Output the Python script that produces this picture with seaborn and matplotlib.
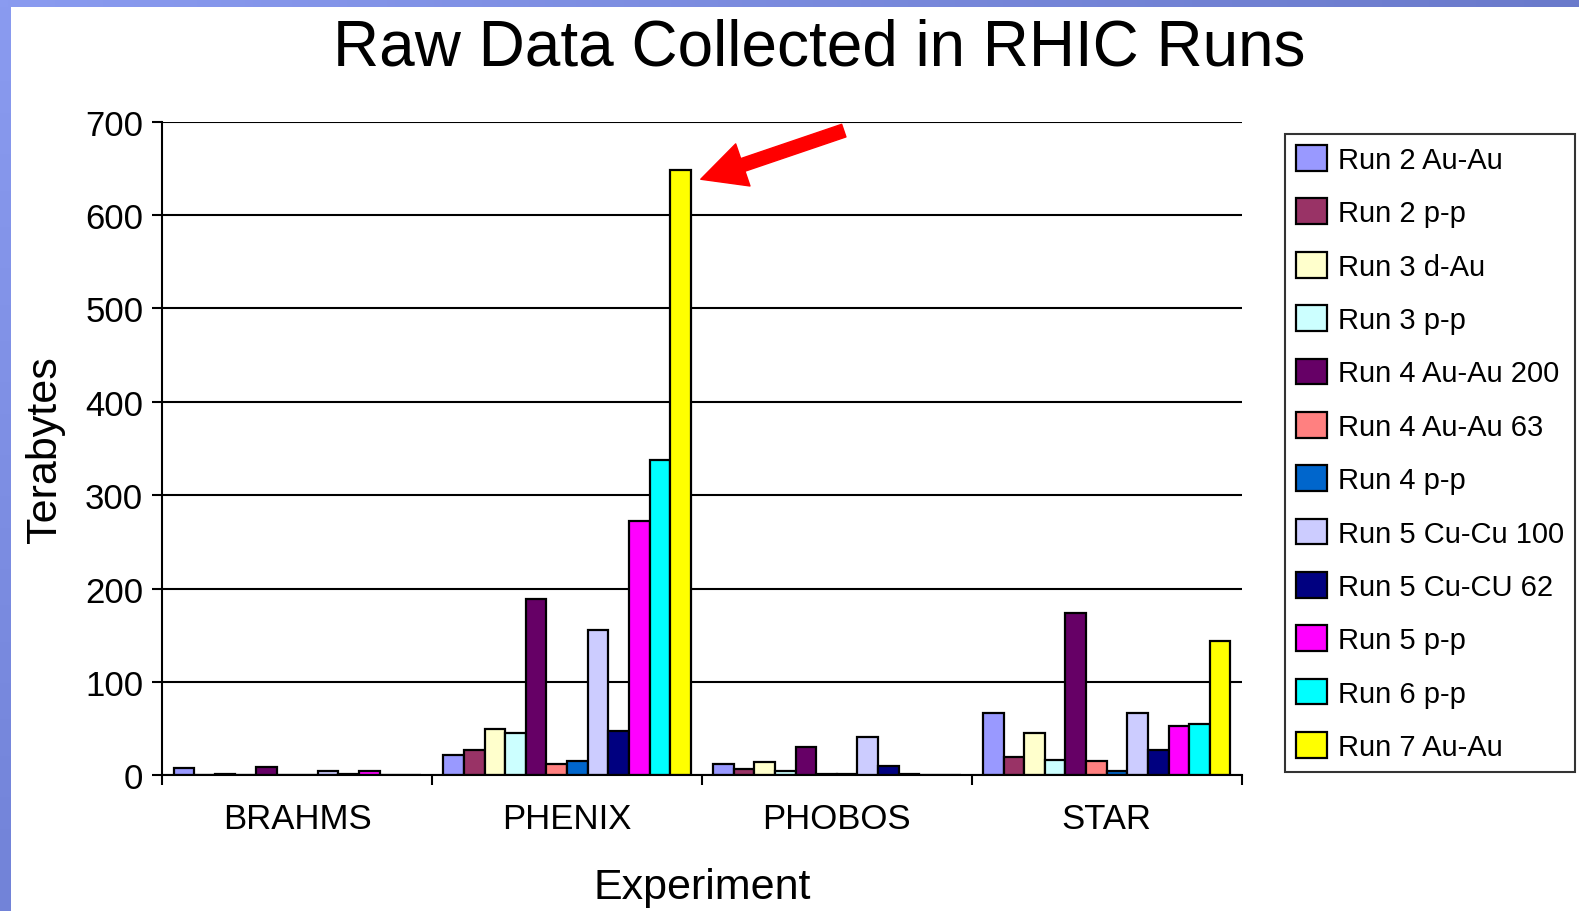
import numpy as np
import pandas as pd
import matplotlib
matplotlib.use("Agg")
import matplotlib.pyplot as plt
import matplotlib.transforms as mtransforms
import seaborn as sns

# ===============================
# Data
# ===============================
experiments = ["BRAHMS", "PHENIX", "PHOBOS", "STAR"]
runs = ["Run 2 Au-Au", "Run 2 p-p", "Run 3 d-Au", "Run 3 p-p",
        "Run 4 Au-Au 200", "Run 4 Au-Au 63", "Run 4 p-p", "Run 5 Cu-Cu 100",
        "Run 5 Cu-CU 62", "Run 5 p-p", "Run 6 p-p", "Run 7 Au-Au"]

brahms = [8, 0, 2, 0, 9, 0, 0, 5, 2, 5, 0, 0]
phenix = [22, 27, 50, 45, 189, 12, 15, 156, 48, 272, 338, 648]
phobos = [12, 7, 14, 5, 31, 2, 2, 41, 10, 2, 0, 0]
star = [67, 20, 45, 17, 174, 15, 5, 67, 27, 53, 55, 144]

run_colors = ["#9999FF", "#993366", "#FFFFCC", "#CCFFFF", "#660066", "#FF8080",
              "#0066CC", "#CCCCFF", "#000080", "#FF00FF", "#00FFFF", "#FFFF00"]

yticks = [0, 100, 200, 300, 400, 500, 600, 700]

rows = []
for exp, vals in zip(experiments, [brahms, phenix, phobos, star]):
    for run, v in zip(runs, vals):
        rows.append({"Experiment": exp, "Run": run, "Terabytes": v})
df = pd.DataFrame(rows)

# ===============================
# Plot
# ===============================
sns.set_style("white")
plt.rcParams["font.family"] = ["Liberation Sans", "DejaVu Sans"]
plt.rcParams["text.color"] = "black"
plt.rcParams["axes.labelcolor"] = "black"
plt.rcParams["xtick.color"] = "black"
plt.rcParams["ytick.color"] = "black"

fig = plt.figure(figsize=(15.79, 9.12), dpi=100)
fig.patch.set_facecolor("white")

# blue slide border (gradient strips)
left_ax = fig.add_axes([0, 0, 11 / 1579, 1])
left_ax.imshow(np.linspace(0, 1, 200).reshape(-1, 1), aspect="auto",
               cmap=matplotlib.colors.LinearSegmentedColormap.from_list(
                   "l", ["#8A9BF0", "#7283D8"]))
left_ax.axis("off")
top_ax = fig.add_axes([0, 1 - 7.5 / 912, 1, 7.5 / 912])
top_ax.imshow(np.linspace(0, 1, 200).reshape(1, -1), aspect="auto",
              cmap=matplotlib.colors.LinearSegmentedColormap.from_list(
                  "t", ["#8A9BF0", "#6A7ACB"]))
top_ax.axis("off")

ax = fig.add_axes([0.1028, 0.1486, 0.7863 - 0.1028, 0.8655 - 0.1486])
sns.barplot(data=df, x="Experiment", y="Terabytes", hue="Run",
            order=experiments, hue_order=runs, palette=run_colors,
            width=0.917, saturation=1, edgecolor="black", linewidth=1.6,
            errorbar=None, ax=ax, zorder=3)

ax.set_ylim(0, 700)
ax.set_xlim(-0.5, 3.5)
ax.set_yticks(yticks)
ax.set_yticklabels([str(t) for t in yticks], fontsize=25)
ax.yaxis.grid(True, color="black", linewidth=1.5)
ax.set_axisbelow(True)
for s in ["top", "right"]:
    ax.spines[s].set_visible(False)
for s in ["left", "bottom"]:
    ax.spines[s].set_color("black")
    ax.spines[s].set_linewidth(1.5)
    ax.spines[s].set_zorder(4)
ax.tick_params(axis="y", direction="out", length=7.2, width=1.5, pad=6.5,
               left=True, color="black")
ax.tick_params(axis="x", which="major", length=0, pad=19, labelsize=25)
ax.set_xticks([-0.5, 0.5, 1.5, 2.5, 3.5], minor=True)
ax.tick_params(axis="x", which="minor", direction="out", length=7.5, width=1.5,
               bottom=True, color="black")

ax.set_xlabel("Experiment", fontsize=31)
ax.xaxis.set_label_coords(0.5, -0.171)
ax.xaxis.label.set_va("center")
ax.set_ylabel("Terabytes", fontsize=31)
ax.yaxis.set_label_coords(-0.109, 0.5)
ax.yaxis.label.set_va("center")

fig.text(0.519, 1 - 49 / 912, "Raw Data Collected in RHIC Runs",
         ha="center", va="center", fontsize=46)

# legend
handles, labels = ax.get_legend_handles_labels()
ax.legend_.remove()
leg = fig.legend(handles, labels, loc="upper left",
                 bbox_to_anchor=(1285 / 1579, 1 - 135 / 912),
                 fontsize=21, frameon=True, fancybox=False,
                 edgecolor="black", borderaxespad=0, borderpad=0.38,
                 handlelength=1.06, handleheight=0.98, handletextpad=0.38,
                 labelspacing=0.84)
leg.get_frame().set_linewidth(1.5)

# red arrow pointing at the tallest bar
bar = ax.containers[-1].patches[1]
tip = mtransforms.offset_copy(ax.transData, fig=fig, x=10, y=-9, units="dots")
ax.annotate("", xy=(bar.get_x() + bar.get_width(), bar.get_height()),
            xycoords=tip, xytext=(103, 35), textcoords="offset points",
            arrowprops=dict(arrowstyle="simple,head_length=1.6,head_width=1.6,tail_width=0.48",
                            mutation_scale=20, color="#FF0000",
                            shrinkA=0, shrinkB=0),
            annotation_clip=False, zorder=6)

plt.savefig("out.png", dpi=100)
